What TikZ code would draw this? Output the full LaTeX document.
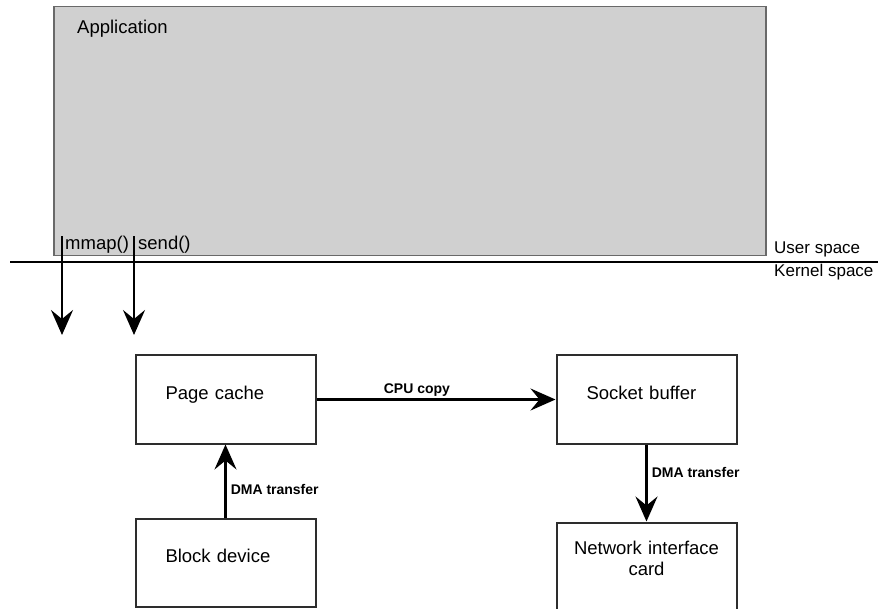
\documentclass[tikz,border=0pt]{standalone}
\usepackage{fontspec}
\setmainfont{Liberation Sans}
\usetikzlibrary{positioning,arrows.meta}

\definecolor{appgray}{RGB}{208,208,208}
\definecolor{appedge}{RGB}{105,105,105}
\definecolor{boxedge}{RGB}{45,45,45}

\begin{document}
\begin{tikzpicture}[x=1pt,y=-1pt,
    big/.style={font=\fontsize{18.5}{21}\selectfont},
    small/.style={font=\fontsize{14}{16}\selectfont\bfseries},
    box/.style={draw=boxedge,line width=2pt,big,minimum width=180pt,minimum height=88pt,
      inner ysep=0pt,inner xsep=30pt,text width=120pt,align=left,text height=14pt,text depth=14pt},
    flow/.style={line width=2.5pt,-{Stealth[length=25pt,width=22pt,inset=9pt]}}]

  \useasboundingbox (0,0) rectangle (878,609);

  % user space
  \node[draw=appedge,line width=1.5pt,fill=appgray,minimum width=712pt,minimum height=249pt,
    anchor=north west](app) at (53,6){};
  \node[big,anchor=base west,inner sep=0pt](apptitle) at ([xshift=24pt,yshift=-28pt]app.north west){Application};
  \node[big,anchor=base west,inner xsep=3pt,inner ysep=0pt](mmap) at (62,250){mmap()};
  \node[big,anchor=base west,inner xsep=4pt,inner ysep=0pt](send) at (134,250){send()};

  % boundary
  \coordinate (divl) at (10,262);
  \coordinate (divr) at (878,262);
  \draw[line width=2.5pt] (divl) -- (divr);
  \node[font=\fontsize{17}{20}\selectfont,anchor=base west,inner sep=0pt](user) at (774,254){User space};
  \node[font=\fontsize{17}{20}\selectfont,anchor=base west,inner sep=0pt](kernel) at (774,276.5){Kernel space};

  % kernel space
  \node[box](page) at (225.5,399.5){Page cache};
  \node[box,right=239pt of page](socket){Socket buffer};
  \node[box,below=73pt of page](block){Block device};
  \node[box,below=77pt of socket,inner xsep=5pt,text width=170pt,align=center,text depth=39pt](nic){Network interface\\card};

  \coordinate (mmapend) at (62,335);
  \coordinate (sendend) at (134,335);
  \draw[flow] (mmap.north west) -- (mmapend);
  \draw[flow] (send.north west) -- (sendend);

  \draw[flow] (page.east) -- node[small,above,pos=0.42,inner sep=2pt]{CPU copy} (socket.west);
  \draw[flow] (block.north) -- node[small,right,pos=0.39,inner sep=4pt]{DMA transfer} (page.south);
  \draw[flow] (socket.south) -- node[small,right,pos=0.37,inner sep=4pt]{DMA transfer} (nic.north);
\end{tikzpicture}
\end{document}
